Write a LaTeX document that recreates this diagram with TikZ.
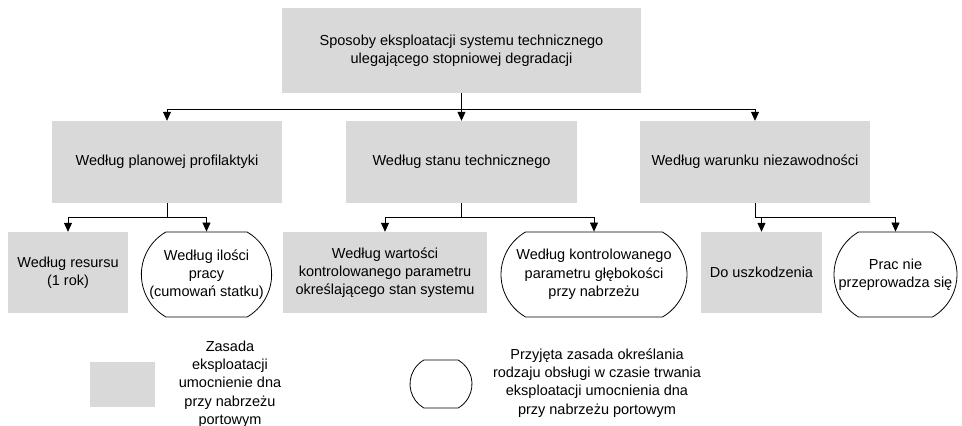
\documentclass[tikz,border=0pt]{standalone}
\usepackage{fontspec}
\setmainfont{Liberation Sans}
\usepackage{tikz}
\usetikzlibrary{arrows.meta, positioning, shapes.misc}
\definecolor{boxgray}{RGB}{217, 217, 217}

\begin{document}
\begin{tikzpicture}[x=1pt, y=-1pt,
    szary/.style={rectangle, fill=boxgray, align=center, inner sep=2pt},
    owal/.style={rounded rectangle, rounded rectangle arc length=120, draw, line width=0.8pt, align=center, inner sep=1pt},
    strz/.style={-{Triangle[length=9pt, width=8pt]}, line width=0.8pt},
    linia/.style={line width=0.8pt},
    font=\fontsize{14.5}{18.3}\selectfont]
    \useasboundingbox (0,0) rectangle (962,426);

    % poziom glowny
    \node[szary, minimum width=359pt, minimum height=85pt] (glowny) at (461.5, 50.5) {Sposoby eksploatacji systemu technicznego\\ulegającego stopniowej degradacji};

    % pierwszy poziom
    \node[szary, minimum width=230pt, minimum height=82pt] (plan) at (167, 162) {Według planowej profilaktyki};
    \node[szary, minimum width=231pt, minimum height=82pt] (stan) at (461.5, 162) {Według stanu technicznego};
    \node[szary, minimum width=230pt, minimum height=82pt] (niez) at (755, 162) {Według warunku niezawodności};
    \coordinate (szyna) at (461.5, 109);
    \draw[strz] (glowny) -- (stan);
    \draw[strz] (szyna) -| (plan);
    \draw[strz] (szyna) -| (niez);

    % drugi poziom
    \node[szary, minimum width=120pt, minimum height=81pt] (resurs) at (68, 272.5) {Według resursu\\(1 rok)};
    \node[owal, minimum width=127pt, minimum height=85pt] (ilosc) at (206.5, 274.5) {Według ilości\\pracy\\(cumowań statku)};
    \node[szary, minimum width=204pt, minimum height=81pt] (wartosc) at (385, 272.5) {Według wartości\\kontrolowanego parametru\\określającego stan systemu};
    \node[owal, minimum width=188pt, minimum height=85pt] (kontrol) at (594, 274.5) {Według kontrolowanego\\parametru głębokości\\przy nabrzeżu};
    \node[szary, minimum width=121pt, minimum height=81pt] (uszk) at (761.5, 272.5) {Do uszkodzenia};
    \node[owal, minimum width=125pt, minimum height=85pt] (prac) at (895.5, 274.5) {Prac nie\\przeprowadza się};

    \coordinate (rozg1) at (167, 217);
    \coordinate (rozg2) at (461.5, 217);
    \coordinate (rozg3) at (755, 217);
    \draw[linia] (plan) -- (rozg1);
    \draw[strz] (rozg1) -| (resurs);
    \draw[strz] (rozg1) -| (ilosc);
    \draw[linia] (stan) -- (rozg2);
    \draw[strz] (rozg2) -| (wartosc);
    \draw[strz] (rozg2) -| (kontrol);
    \draw[linia] (niez) -- (rozg3);
    \draw[strz] (rozg3) -| (uszk);
    \draw[strz] (rozg3) -| (prac);

    % legenda
    \node[szary, minimum width=65pt, minimum height=45pt] (legszary) at (122.5, 384.5) {};
    \node[align=center] (legszaryopis) at (230, 384) {Zasada\\eksploatacji\\umocnienie dna\\przy nabrzeżu\\portowym};
    \node[owal, minimum width=64pt, minimum height=48pt] (legowal) at (441, 384) {};
    \node[align=center] (legowalopis) at (597, 383) {Przyjęta zasada określania\\rodzaju obsługi w czasie trwania\\eksploatacji umocnienia dna\\przy nabrzeżu portowym};
\end{tikzpicture}
\end{document}
